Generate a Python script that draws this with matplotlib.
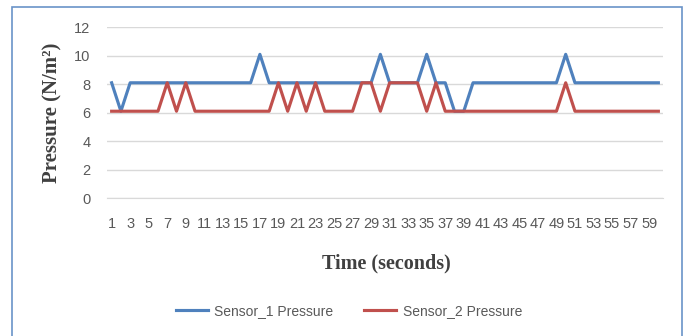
import matplotlib
matplotlib.use('Agg')
import matplotlib.pyplot as plt
from matplotlib.patches import Rectangle

# Дані
time_s = list(range(1, 61))
sensor_1 = [8.1, 6.1, 8.1, 8.1, 8.1, 8.1, 8.1, 8.1, 8.1, 8.1,
            8.1, 8.1, 8.1, 8.1, 8.1, 8.1, 10.1, 8.1, 8.1, 8.1,
            8.1, 8.1, 8.1, 8.1, 8.1, 8.1, 8.1, 8.1, 8.1, 10.1,
            8.1, 8.1, 8.1, 8.1, 10.1, 8.1, 8.1, 6.1, 6.1, 8.1,
            8.1, 8.1, 8.1, 8.1, 8.1, 8.1, 8.1, 8.1, 8.1, 10.1,
            8.1, 8.1, 8.1, 8.1, 8.1, 8.1, 8.1, 8.1, 8.1, 8.1]
sensor_2 = [6.1, 6.1, 6.1, 6.1, 6.1, 6.1, 8.1, 6.1, 8.1, 6.1,
            6.1, 6.1, 6.1, 6.1, 6.1, 6.1, 6.1, 6.1, 8.1, 6.1,
            8.1, 6.1, 8.1, 6.1, 6.1, 6.1, 6.1, 8.1, 8.1, 6.1,
            8.1, 8.1, 8.1, 8.1, 6.1, 8.1, 6.1, 6.1, 6.1, 6.1,
            6.1, 6.1, 6.1, 6.1, 6.1, 6.1, 6.1, 6.1, 6.1, 8.1,
            6.1, 6.1, 6.1, 6.1, 6.1, 6.1, 6.1, 6.1, 6.1, 6.1]
tick_labels = [str(t) for t in time_s[::2]]

grey = '#595959'
fig = plt.figure(figsize=(6.83, 3.36), dpi=100)
ax = fig.add_axes([107 / 683, 1 - 198 / 336, 556 / 683, 170.7 / 336])

ax.plot(time_s, sensor_1, color='#4F81BD', lw=2.25, label='Sensor_1 Pressure')
ax.plot(time_s, sensor_2, color='#C0504D', lw=2.25, label='Sensor_2 Pressure')

ax.set_xlim(0.5, 60.5)
ax.set_ylim(0, 12)
ax.set_yticks(range(0, 13, 2))
ax.set_xticks(time_s[::2])
ax.set_xticklabels(tick_labels, fontfamily='Liberation Sans', fontsize=10.5, color=grey)
for lab in ax.get_yticklabels():
    lab.set_fontfamily('Liberation Sans')
    lab.set_fontsize(10.5)
    lab.set_color(grey)
ax.tick_params(length=0)
ax.tick_params(axis='y', pad=12)
ax.tick_params(axis='x', pad=14)
ax.grid(axis='y', color='#D9D9D9', lw=1)
ax.set_axisbelow(True)
for s in ['top', 'right', 'left']:
    ax.spines[s].set_visible(False)
ax.spines['bottom'].set_color('#D9D9D9')

ax.set_ylabel('Pressure (N/m²)', fontfamily='Liberation Serif', fontweight='bold',
              fontsize=15, color='#404040', labelpad=8)
fig.text(386 / 683, 1 - 263 / 336, 'Time (seconds)', fontfamily='Liberation Serif',
         fontweight='bold', fontsize=14.5, color='#404040', ha='center', va='center')

leg = fig.legend(loc='center', bbox_to_anchor=(349 / 683, 1 - 311 / 336), ncol=2,
                 frameon=False, handlelength=2.3, handletextpad=0.5, columnspacing=2.2,
                 prop={'family': 'Liberation Sans', 'size': 10})
for t in leg.get_texts():
    t.set_color(grey)

fig.patches.append(Rectangle((12 / 683, -0.02), 670 / 683, 1.02 - 7 / 336,
                             transform=fig.transFigure, fill=False,
                             edgecolor='#6A93C8', lw=1.2))

fig.savefig('out.png', dpi=100)
